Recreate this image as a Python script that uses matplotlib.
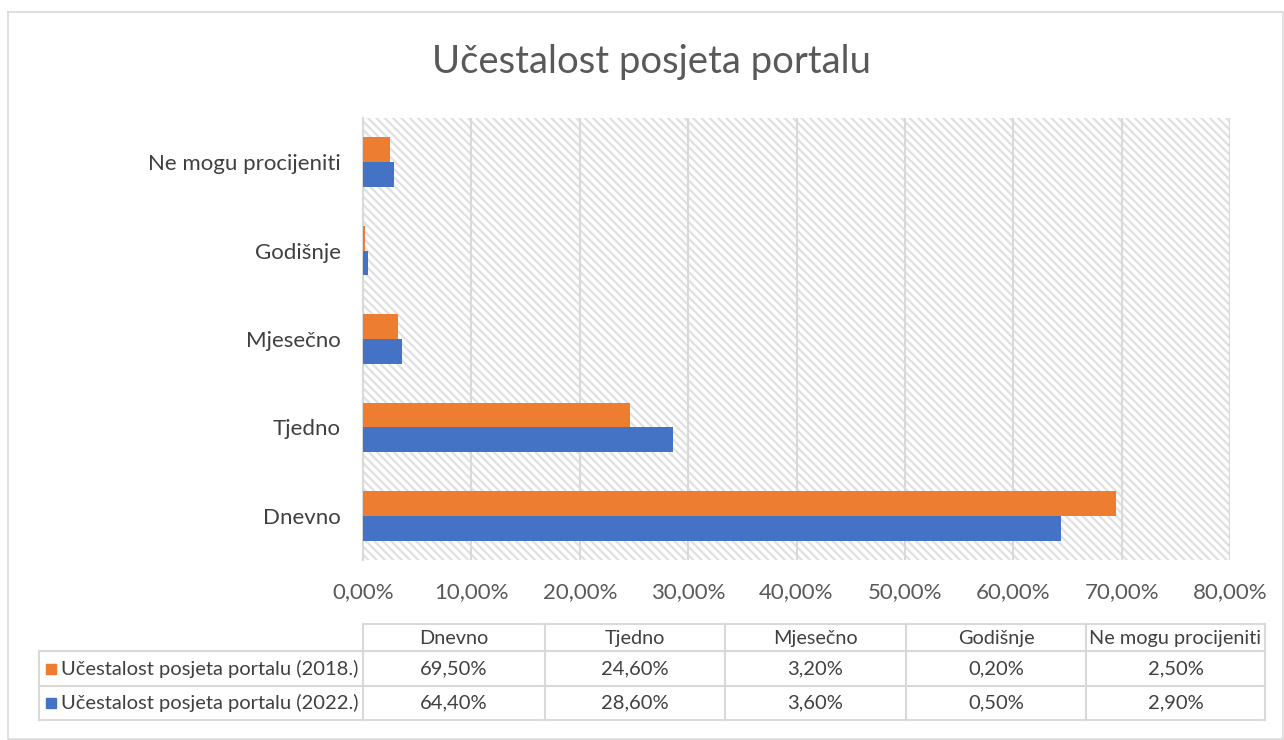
import numpy as np
import matplotlib.pyplot as plt
from matplotlib.ticker import FuncFormatter

plt.rcParams['font.family'] = ['Lato', 'DejaVu Sans']
plt.rcParams['hatch.color'] = '#e0e0e0'
plt.rcParams['hatch.linewidth'] = 1.6

# Data
categories = ['Dnevno', 'Tjedno', 'Mjesečno', 'Godišnje', 'Ne mogu procijeniti']
series_names = ['Učestalost posjeta portalu (2018.)', 'Učestalost posjeta portalu (2022.)']
values_2018 = [69.5, 24.6, 3.2, 0.2, 2.5]
values_2022 = [64.4, 28.6, 3.6, 0.5, 2.9]
colors = ['#ED7D31', '#4472C4']
xticks = [0, 10, 20, 30, 40, 50, 60, 70, 80]

def pct(v, pos=None):
    return f"{v:.2f}".replace('.', ',') + '%'

W, H = 1284, 740
fig = plt.figure(figsize=(W / 100, H / 100), dpi=100)

# background layer in pixel coordinates (border + data table)
bg = fig.add_axes([0, 0, 1, 1], zorder=0)
bg.set_xlim(0, W)
bg.set_ylim(H, 0)
bg.axis('off')
grey = '#d9d9d9'
bg.plot([8, 1283, 1283, 8, 8], [12, 12, 739, 739, 12], color=grey, lw=1.2)

# Main chart
ax = fig.add_axes([363 / W, 1 - 560 / H, 867 / W, 442 / H], zorder=1)
ax.patch.set_facecolor('white')
ax.patch.set_hatch('\\\\\\\\')
ax.patch.set_edgecolor('#e0e0e0')
ax.patch.set_linewidth(0)

y = np.arange(len(categories))
h = 0.28
ax.barh(y + h / 2, values_2018, height=h, color=colors[0], zorder=3)
ax.barh(y - h / 2, values_2022, height=h, color=colors[1], zorder=3)

ax.set_xlim(0, 80)
ax.set_ylim(-0.5, len(categories) - 0.5)
ax.set_xticks(xticks)
ax.xaxis.set_major_formatter(FuncFormatter(pct))
ax.set_yticks(y)
ax.set_yticklabels(categories)
ax.tick_params(axis='both', length=0, labelsize=16, colors='#595959')
ax.tick_params(axis='x', pad=16)
ax.tick_params(axis='y', pad=16)
for lab in ax.get_yticklabels():
    lab.set_color('#404040')
ax.grid(axis='x', color=grey, lw=1.5, zorder=1)
for s in ['top', 'right', 'bottom']:
    ax.spines[s].set_visible(False)
ax.spines['left'].set_color(grey)
ax.spines['left'].set_linewidth(1.5)

fig.text(652 / W, 1 - 62 / H, 'Učestalost posjeta portalu', ha='center', va='center',
         fontsize=27.5, color='#595959')

# Data table below the axis
col_edges = [363, 545, 725, 906, 1086, 1265]
row_edges = [624, 651, 686, 720]
left = 39
lc = dict(color=grey, lw=1.5)
bg.plot([col_edges[0], col_edges[-1]], [row_edges[0]] * 2, **lc)
for r in row_edges[1:]:
    bg.plot([left, col_edges[-1]], [r, r], **lc)
bg.plot([left, left], [row_edges[1], row_edges[-1]], **lc)
for c in col_edges:
    bg.plot([c, c], [row_edges[0], row_edges[-1]], **lc)

tcol = '#404040'
for i, cat in enumerate(categories):
    cx = (col_edges[i] + col_edges[i + 1]) / 2
    bg.text(cx, (row_edges[0] + row_edges[1]) / 2 + 1, cat, ha='center', va='center',
            fontsize=14.3, color=tcol)
rows = [values_2018, values_2022]
for j, (name, vals) in enumerate(zip(series_names, rows)):
    cy = (row_edges[j + 1] + row_edges[j + 2]) / 2
    bg.add_patch(plt.Rectangle((46, cy - 5), 10, 10, color=colors[j]))
    bg.text(61, cy, name, ha='left', va='center', fontsize=14.5, color=tcol)
    for i, v in enumerate(vals):
        cx = (col_edges[i] + col_edges[i + 1]) / 2
        bg.text(cx, cy, pct(v), ha='center', va='center', fontsize=14.5, color=tcol)

fig.savefig('out.png', dpi=100)
